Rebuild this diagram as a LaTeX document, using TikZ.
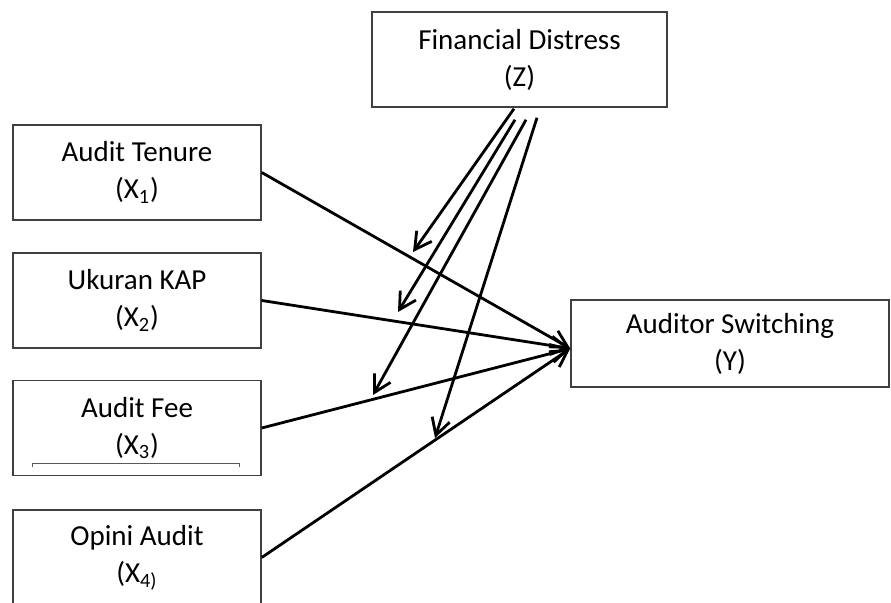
\documentclass[tikz,border=0pt]{standalone}
\usepackage{fontspec}
\setmainfont{Carlito}
\usepackage{tikz}
\usetikzlibrary{calc,arrows.meta}
\definecolor{boxGray}{HTML}{404040}
\definecolor{lineGray}{HTML}{595959}

\begin{document}
\begin{tikzpicture}[
  x=0.5pt, y=-0.5pt,
  var/.style={
    draw=boxGray, line width=0.75pt,
    minimum width=#1, minimum height=47.5pt,
    inner sep=0pt, align=center,
    font=\fontsize{14.5}{18.5}\selectfont,
  },
  var/.default=124pt,
  arr/.style={-{Straight Barb[length=8.3pt,width=9.2pt]}, line width=1.4pt},
]
\path[use as bounding box, clip] (0,0) rectangle (891,603);

% Moderator (top)
\node[var=147.5pt] (fd) at (519.5,59.5) {Financial Distress\\(Z)};

% Independent variables (left column)
\node[var] (tenure) at (137,172.5) {Audit Tenure\\(X\textsubscript{1})};
\node[var] (kap)    at (137,300.5) {Ukuran KAP\\(X\textsubscript{2})};
\node[var] (fee)    at (137,428)   {Audit Fee\\(X\textsubscript{3})};
\node[var] (opini)  at (137,557.5) {Opini Audit\\(X\textsubscript{4)}};

% Dependent variable
\node[var=159pt, minimum height=43.5pt] (ys) at (730,343.5)
  {Auditor Switching\\(Y)};

% stray line inside the Audit Fee box
\draw[lineGray, line width=0.5pt] ($(fee.south west)+(20,-9)$)
  |- ($(fee.south east)+(-22,-13)$) -- ++(0,4);

% Arrows
\coordinate (hub) at ($(ys.west)+(0,5)$);
\draw[arr] (tenure.east) -- (hub);
\draw[arr] (kap.east) -- (hub);
\draw[arr] (fee.east) -- (hub);
\draw[arr] (opini.east) -- (hub);

% Moderation arrows
\coordinate (m1) at (413,252);
\coordinate (m2) at (398,312);
\coordinate (m3) at (373,395);
\coordinate (m4) at (435,438);
\draw[arr] ($(fd.south)+(-5.5,1)$) -- (m1);
\draw[arr] ($(fd.south)+(-4.5,12)$) -- (m2);
\draw[arr] ($(fd.south)+(6.5,12)$) -- (m3);
\draw[arr] ($(fd.south)+(17.5,10)$) -- (m4);

\end{tikzpicture}
\end{document}
